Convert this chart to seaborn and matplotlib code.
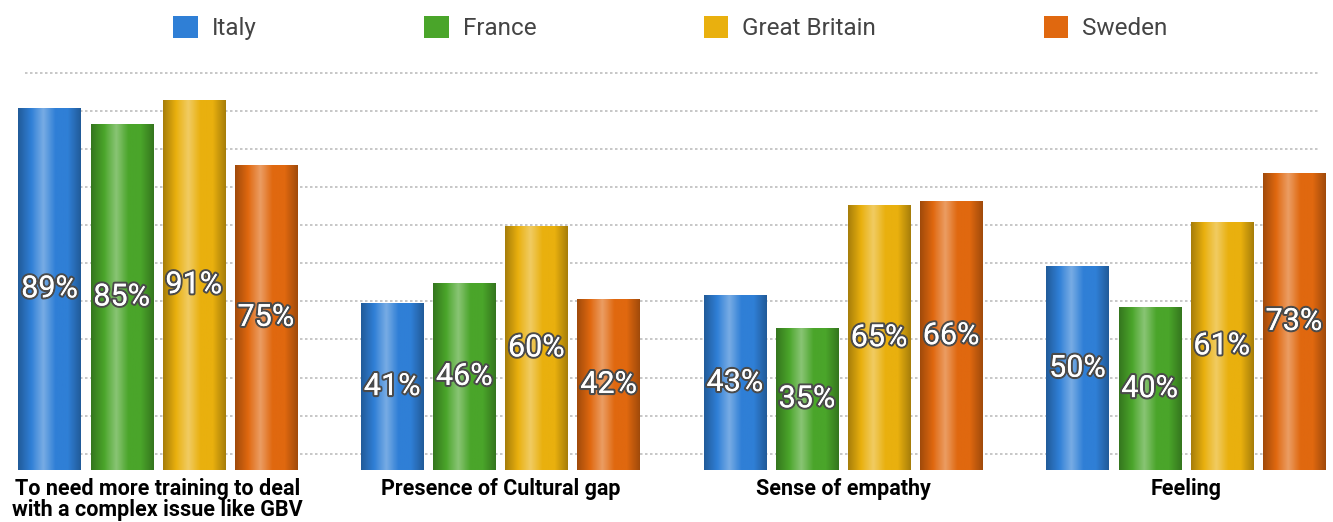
import numpy as np
import pandas as pd
import seaborn as sns
import matplotlib.pyplot as plt
import matplotlib.patheffects as pe
from matplotlib.colors import LinearSegmentedColormap, to_rgb
from matplotlib.patches import Patch

categories = ["To need more training to deal\nwith a complex issue like GBV",
              "Presence of Cultural gap",
              "Sense of empathy",
              "Feeling"]
countries = ["Italy", "France", "Great Britain", "Sweden"]
italy = [89, 41, 43, 50]
france = [85, 46, 35, 40]
great_britain = [91, 60, 65, 61]
sweden = [75, 42, 66, 73]

colors = {"Italy": "#2f7fd6", "France": "#4aa52a",
          "Great Britain": "#e9b00e", "Sweden": "#e0680f"}

rows = []
for country, vals in zip(countries, [italy, france, great_britain, sweden]):
    for cat, v in zip(categories, vals):
        rows.append({"category": cat, "country": country, "value": v})
df = pd.DataFrame(rows)

sns.set_theme(style="white")
plt.rcParams['font.family'] = ['Roboto', 'DejaVu Sans']

fig = plt.figure(figsize=(13.33, 5.22), dpi=100)
ax = fig.add_axes([0, 0.0996, 1, 0.7854])

sns.barplot(data=df, x="category", y="value", hue="country", hue_order=countries,
            palette=colors, width=0.842, gap=0.14, legend=False, ax=ax,
            saturation=1, edgecolor="none")

# dotted guide lines
for g in np.linspace(4.0, 97.6, 11):
    ax.axhline(g, xmin=25 / 1333, xmax=1318 / 1333, color="#bdbdbd",
               linestyle=(0, (1.5, 1.5)), linewidth=1.2, zorder=0)

# fake cylinder shading on each bar
for patch in list(ax.patches):
    x0, y0 = patch.get_x(), patch.get_y()
    w, h = patch.get_width(), patch.get_height()
    base = np.array(to_rgb(patch.get_facecolor()))
    light = base + (1 - base) * 0.35
    dark = base * 0.72
    cmap = LinearSegmentedColormap.from_list(
        "c", [dark, base, light, base, base, dark])
    grad = np.linspace(0, 1, 64).reshape(1, -1)
    im = ax.imshow(grad, cmap=cmap, aspect="auto",
                   extent=[x0, x0 + w, y0, y0 + h], zorder=2)
    im.set_clip_path(patch)

ax.set_xlim(-0.46, 3.43)
ax.set_ylim(0, 100.7)

for cont in ax.containers:
    labels = ax.bar_label(cont, fmt="%d%%", label_type="center", color="white",
                          fontsize=22, zorder=5)
    for t in labels:
        t.set_path_effects([pe.withStroke(linewidth=3, foreground="#4a4a4a"),
                            pe.Normal()])
        t.set_zorder(5)

for s in ax.spines.values():
    s.set_visible(False)
ax.set_yticks([])
ax.set_xlabel("")
ax.set_ylabel("")
ax.tick_params(axis="x", length=0, pad=6)
for lbl in ax.get_xticklabels():
    lbl.set_fontweight("bold")
    lbl.set_fontsize(15.5)
    lbl.set_color("black")
    lbl.set_linespacing(0.92)

handles = [Patch(facecolor=colors[c], edgecolor="none") for c in countries]
fig.legend(handles, countries, loc="center", bbox_to_anchor=(0.503, 0.946),
           ncol=4, frameon=False, fontsize=17.5, handlelength=1.0,
           handleheight=1.0, handletextpad=0.58, columnspacing=6.9,
           labelcolor="#444444")

fig.savefig("out.png", dpi=100)
